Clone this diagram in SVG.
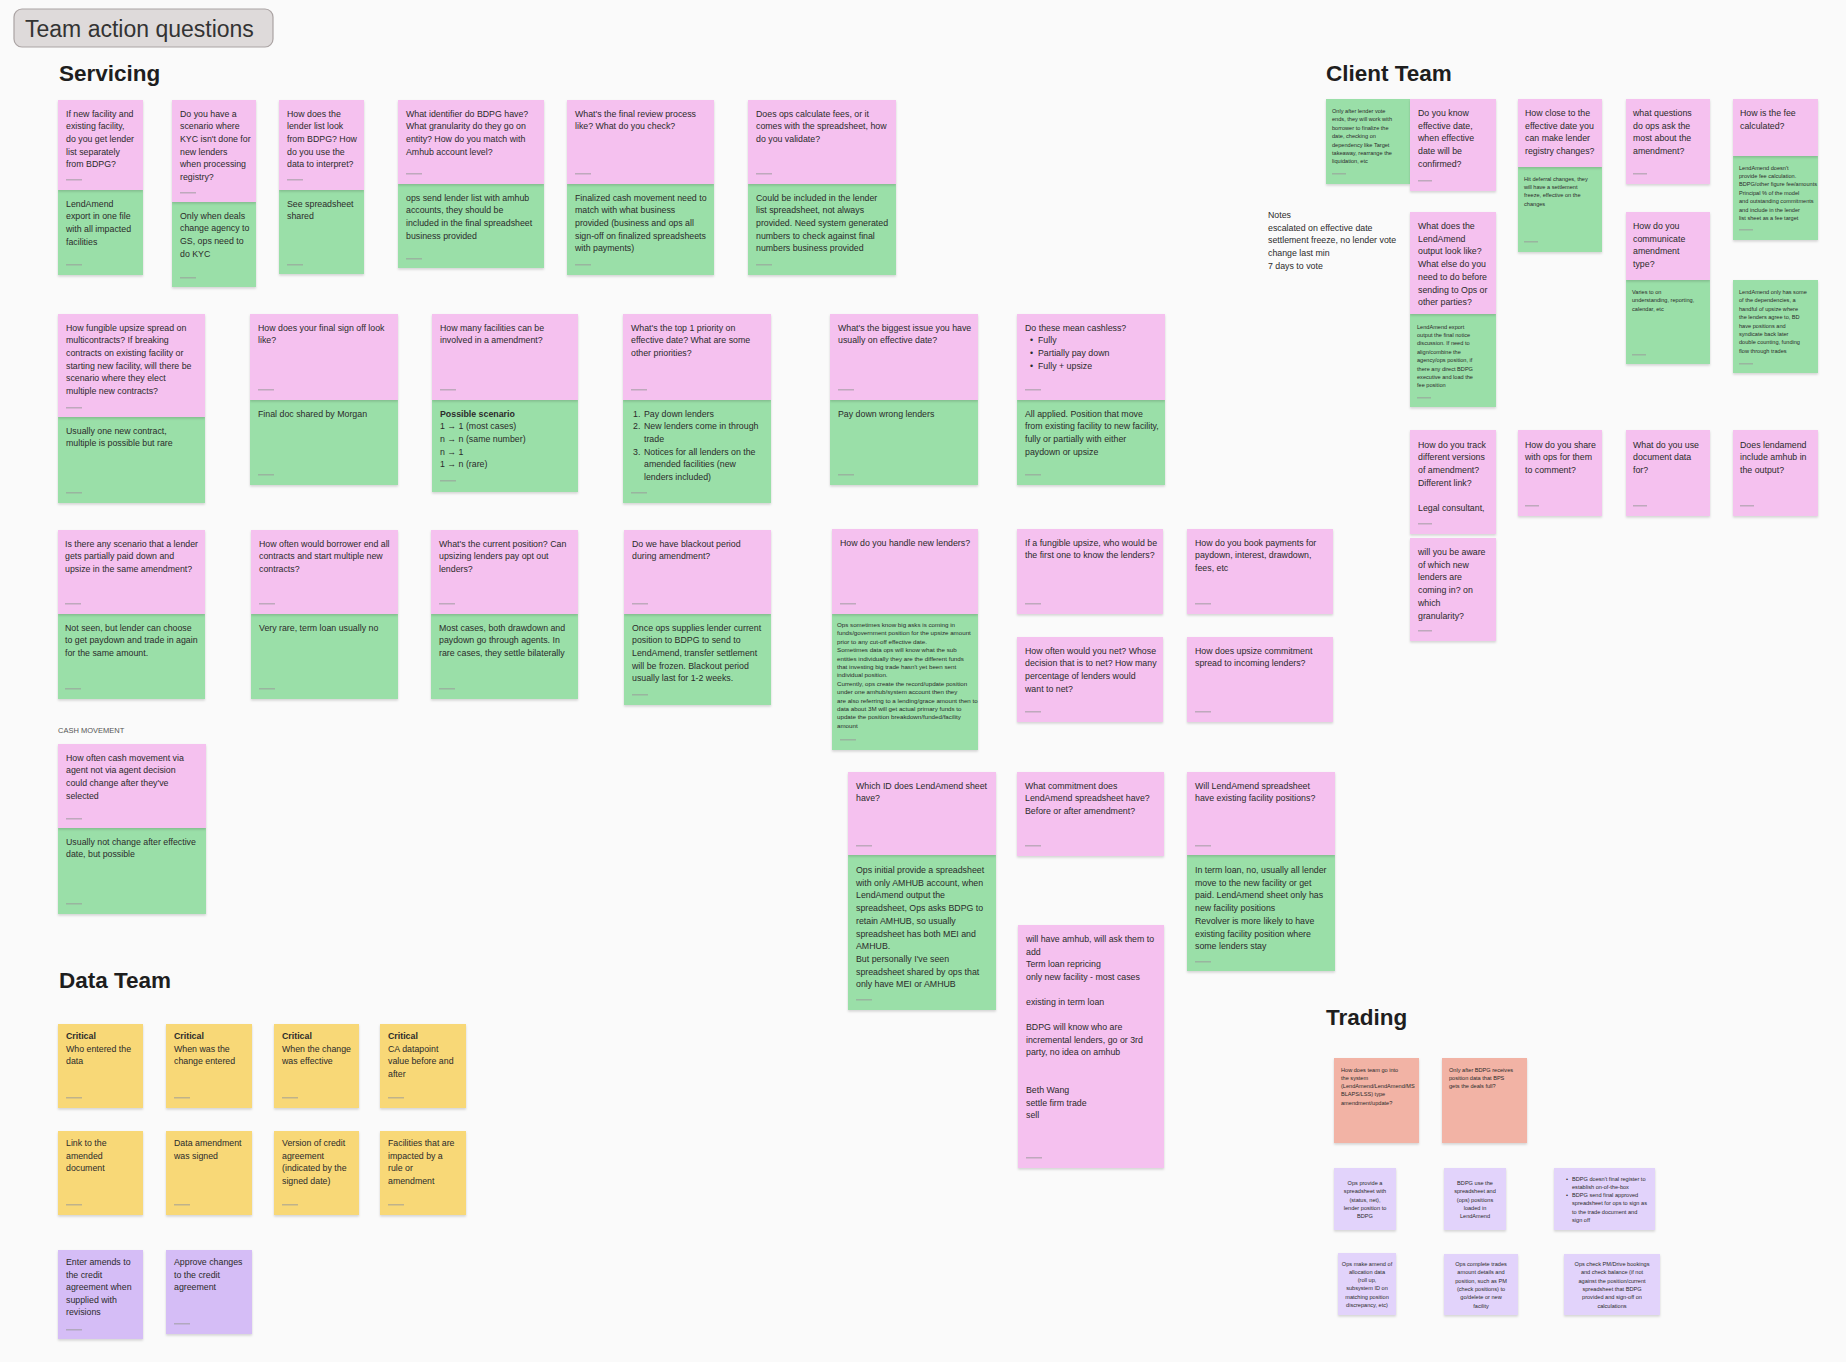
<svg xmlns="http://www.w3.org/2000/svg" width="1846" height="1362" viewBox="0 0 1846 1362">
<defs>
<filter id="sh" x="-10%" y="-10%" width="120%" height="130%"><feDropShadow dx="0" dy="1.5" stdDeviation="1.3" flood-color="#000" flood-opacity="0.16"/></filter>
<style>
.p{fill:#f5c1ef;filter:url(#sh)}
.g{fill:#9adfa8;filter:url(#sh)}
.y{fill:#f8d877;filter:url(#sh)}
.u{fill:#d5bdf6;filter:url(#sh)}
.l{fill:#e2d3fb;filter:url(#sh)}
.s{fill:#f2b3a5;filter:url(#sh)}
.t{font-family:"Liberation Sans",Arial,sans-serif;font-size:8.8px;fill:#2b2b2b}
.m{font-family:"Liberation Sans",Arial,sans-serif;font-size:6.2px;fill:#2b2b2b}
.n{font-family:"Liberation Sans",Arial,sans-serif;font-size:5.6px;fill:#2b2b2b}
.c{text-anchor:middle}
.b{font-weight:bold}
.h{font-family:"Liberation Sans",Arial,sans-serif;font-size:22.5px;font-weight:bold;fill:#1e1e1e}
.ts{fill:#9a9a9a;opacity:.6}
</style>
</defs>
<rect width="1846" height="1362" fill="#fafafa"/>

<g id="title">
<rect x="14" y="9" width="259" height="38" rx="8" fill="#dedada" stroke="#aaa3a3" stroke-width="1.2"/>
<text x="25" y="37" font-family="Liberation Sans,Arial,sans-serif" font-size="23px" fill="#333">Team action questions</text>
</g>
<g id="headings">
<text class="h" x="59" y="81">Servicing</text>
<text class="h" x="1326" y="81">Client Team</text>
<text class="h" x="59" y="988">Data Team</text>
<text class="h" x="1326" y="1025">Trading</text>
<text x="58" y="733" font-family="Liberation Sans,Arial,sans-serif" font-size="7.5px" fill="#555">CASH MOVEMENT</text>
</g>
<g id="connectors"></g>

<!-- Servicing row 1 -->
<g id="s1">
<rect class="g" x="58" y="190" width="85" height="85"/><rect class="p" x="58" y="100" width="85" height="90"/>
<text class="t" y="116.5"><tspan x="66">If new facility and</tspan><tspan x="66" dy="12.7">existing facility,</tspan><tspan x="66" dy="12.7">do you get lender</tspan><tspan x="66" dy="12.7">list separately</tspan><tspan x="66" dy="12.7">from BDPG?</tspan></text>
<text class="t" y="206.5"><tspan x="66">LendAmend</tspan><tspan x="66" dy="12.7">export in one file</tspan><tspan x="66" dy="12.7">with all impacted</tspan><tspan x="66" dy="12.7">facilities</tspan></text>
<rect class="ts" x="66" y="179" width="16" height="1.5"/><rect class="ts" x="66" y="264" width="16" height="1.5"/>
</g>
<g id="s2">
<rect class="g" x="172" y="202" width="84" height="85"/><rect class="p" x="172" y="100" width="84" height="102"/>
<text class="t" y="116.5"><tspan x="180">Do you have a</tspan><tspan x="180" dy="12.7">scenario where</tspan><tspan x="180" dy="12.7">KYC isn't done for</tspan><tspan x="180" dy="12.7">new lenders</tspan><tspan x="180" dy="12.7">when processing</tspan><tspan x="180" dy="12.7">registry?</tspan></text>
<text class="t" y="218.5"><tspan x="180">Only when deals</tspan><tspan x="180" dy="12.7">change agency to</tspan><tspan x="180" dy="12.7">GS, ops need to</tspan><tspan x="180" dy="12.7">do KYC</tspan></text>
<rect class="ts" x="180" y="192" width="16" height="1.5"/><rect class="ts" x="180" y="277" width="16" height="1.5"/>
</g>
<g id="s3">
<rect class="g" x="279" y="190" width="85" height="84"/><rect class="p" x="279" y="100" width="85" height="90"/>
<text class="t" y="116.5"><tspan x="287">How does the</tspan><tspan x="287" dy="12.7">lender list look</tspan><tspan x="287" dy="12.7">from BDPG? How</tspan><tspan x="287" dy="12.7">do you use the</tspan><tspan x="287" dy="12.7">data to interpret?</tspan></text>
<text class="t" y="206.5"><tspan x="287">See spreadsheet</tspan><tspan x="287" dy="12.7">shared</tspan></text>
<rect class="ts" x="287" y="179" width="16" height="1.5"/><rect class="ts" x="287" y="264" width="16" height="1.5"/>
</g>
<g id="s4">
<rect class="g" x="398" y="184" width="146" height="84"/><rect class="p" x="398" y="100" width="146" height="84"/>
<text class="t" y="116.5"><tspan x="406">What identifier do BDPG have?</tspan><tspan x="406" dy="12.7">What granularity do they go on</tspan><tspan x="406" dy="12.7">entity? How do you match with</tspan><tspan x="406" dy="12.7">Amhub account level?</tspan></text>
<text class="t" y="200.5"><tspan x="406">ops send lender list with amhub</tspan><tspan x="406" dy="12.7">accounts, they should be</tspan><tspan x="406" dy="12.7">included in the final spreadsheet</tspan><tspan x="406" dy="12.7">business provided</tspan></text>
<rect class="ts" x="406" y="173" width="16" height="1.5"/><rect class="ts" x="406" y="258" width="16" height="1.5"/>
</g>
<g id="s5">
<rect class="g" x="567" y="184" width="147" height="91"/><rect class="p" x="567" y="100" width="147" height="84"/>
<text class="t" y="116.5"><tspan x="575">What's the final review process</tspan><tspan x="575" dy="12.7">like? What do you check?</tspan></text>
<text class="t" y="200.5"><tspan x="575">Finalized cash movement need to</tspan><tspan x="575" dy="12.7">match with what business</tspan><tspan x="575" dy="12.7">provided (business and ops all</tspan><tspan x="575" dy="12.7">sign-off on finalized spreadsheets</tspan><tspan x="575" dy="12.7">with payments)</tspan></text>
<rect class="ts" x="575" y="173" width="16" height="1.5"/><rect class="ts" x="575" y="264" width="16" height="1.5"/>
</g>
<g id="s6">
<rect class="g" x="748" y="184" width="148" height="91"/><rect class="p" x="748" y="100" width="148" height="84"/>
<text class="t" y="116.5"><tspan x="756">Does ops calculate fees, or it</tspan><tspan x="756" dy="12.7">comes with the spreadsheet, how</tspan><tspan x="756" dy="12.7">do you validate?</tspan></text>
<text class="t" y="200.5"><tspan x="756">Could be included in the lender</tspan><tspan x="756" dy="12.7">list spreadsheet, not always</tspan><tspan x="756" dy="12.7">provided. Need system generated</tspan><tspan x="756" dy="12.7">numbers to check against final</tspan><tspan x="756" dy="12.7">numbers business provided</tspan></text>
<rect class="ts" x="756" y="173" width="16" height="1.5"/><rect class="ts" x="756" y="264" width="16" height="1.5"/>
</g>

<!-- Servicing row 2 -->
<g id="r2a">
<rect class="g" x="58" y="417" width="147" height="86"/><rect class="p" x="58" y="314" width="147" height="103"/>
<text class="t" y="330.5"><tspan x="66">How fungible upsize spread on</tspan><tspan x="66" dy="12.7">multicontracts? If breaking</tspan><tspan x="66" dy="12.7">contracts on existing facility or</tspan><tspan x="66" dy="12.7">starting new facility, will there be</tspan><tspan x="66" dy="12.7">scenario where they elect</tspan><tspan x="66" dy="12.7">multiple new contracts?</tspan></text>
<text class="t" y="433.5"><tspan x="66">Usually one new contract,</tspan><tspan x="66" dy="12.7">multiple is possible but rare</tspan></text>
<rect class="ts" x="66" y="407" width="16" height="1.5"/><rect class="ts" x="66" y="492" width="16" height="1.5"/>
</g>
<g id="r2b">
<rect class="g" x="250" y="400" width="148" height="85"/><rect class="p" x="250" y="314" width="148" height="86"/>
<text class="t" y="330.5"><tspan x="258">How does your final sign off look</tspan><tspan x="258" dy="12.7">like?</tspan></text>
<text class="t" y="416.5"><tspan x="258">Final doc shared by Morgan</tspan></text>
<rect class="ts" x="258" y="389" width="16" height="1.5"/><rect class="ts" x="258" y="474" width="16" height="1.5"/>
</g>
<g id="r2c">
<rect class="g" x="432" y="400" width="146" height="92"/><rect class="p" x="432" y="314" width="146" height="86"/>
<text class="t" y="330.5"><tspan x="440">How many facilities can be</tspan><tspan x="440" dy="12.7">involved in a amendment?</tspan></text>
<text class="t" y="416.5"><tspan x="440" class="b">Possible scenario</tspan><tspan x="440" dy="12.7">1 → 1 (most cases)</tspan><tspan x="440" dy="12.7">n → n (same number)</tspan><tspan x="440" dy="12.7">n → 1</tspan><tspan x="440" dy="12.7">1 → n (rare)</tspan></text>
<rect class="ts" x="440" y="389" width="16" height="1.5"/><rect class="ts" x="440" y="480" width="16" height="1.5"/>
</g>
<g id="r2d">
<rect class="g" x="623" y="400" width="148" height="103"/><rect class="p" x="623" y="314" width="148" height="86"/>
<text class="t" y="330.5"><tspan x="631">What's the top 1 priority on</tspan><tspan x="631" dy="12.7">effective date? What are some</tspan><tspan x="631" dy="12.7">other priorities?</tspan></text>
<text class="t" y="416.5"><tspan x="633">1.</tspan><tspan x="644">Pay down lenders</tspan><tspan x="633" dy="12.7">2.</tspan><tspan x="644">New lenders come in through</tspan><tspan x="644" dy="12.7">trade</tspan><tspan x="633" dy="12.7">3.</tspan><tspan x="644">Notices for all lenders on the</tspan><tspan x="644" dy="12.7">amended facilities (new</tspan><tspan x="644" dy="12.7">lenders included)</tspan></text>
<rect class="ts" x="631" y="389" width="16" height="1.5"/><rect class="ts" x="631" y="492" width="16" height="1.5"/>
</g>
<g id="r2e">
<rect class="g" x="830" y="400" width="148" height="85"/><rect class="p" x="830" y="314" width="148" height="86"/>
<text class="t" y="330.5"><tspan x="838">What's the biggest issue you have</tspan><tspan x="838" dy="12.7">usually on effective date?</tspan></text>
<text class="t" y="416.5"><tspan x="838">Pay down wrong lenders</tspan></text>
<rect class="ts" x="838" y="389" width="16" height="1.5"/><rect class="ts" x="838" y="474" width="16" height="1.5"/>
</g>
<g id="r2f">
<rect class="g" x="1017" y="400" width="148" height="85"/><rect class="p" x="1017" y="314" width="148" height="86"/>
<text class="t" y="330.5"><tspan x="1025">Do these mean cashless?</tspan><tspan x="1030" dy="12.7">•</tspan><tspan x="1038">Fully</tspan><tspan x="1030" dy="12.7">•</tspan><tspan x="1038">Partially pay down</tspan><tspan x="1030" dy="12.7">•</tspan><tspan x="1038">Fully + upsize</tspan></text>
<text class="t" y="416.5"><tspan x="1025">All applied. Position that move</tspan><tspan x="1025" dy="12.7">from existing facility to new facility,</tspan><tspan x="1025" dy="12.7">fully or partially with either</tspan><tspan x="1025" dy="12.7">paydown or upsize</tspan></text>
<rect class="ts" x="1025" y="389" width="16" height="1.5"/><rect class="ts" x="1025" y="474" width="16" height="1.5"/>
</g>

<!-- Servicing row 3 -->
<g id="r3a">
<rect class="g" x="58" y="614" width="147" height="85"/><rect class="p" x="58" y="530" width="147" height="84"/>
<text class="t" y="546.5"><tspan x="65">Is there any scenario that a lender</tspan><tspan x="65" dy="12.7">gets partially paid down and</tspan><tspan x="65" dy="12.7">upsize in the same amendment?</tspan></text>
<text class="t" y="630.5"><tspan x="65">Not seen, but lender can choose</tspan><tspan x="65" dy="12.7">to get paydown and trade in again</tspan><tspan x="65" dy="12.7">for the same amount.</tspan></text>
<rect class="ts" x="65" y="603" width="16" height="1.5"/><rect class="ts" x="65" y="688" width="16" height="1.5"/>
</g>
<g id="r3b">
<rect class="g" x="251" y="614" width="147" height="85"/><rect class="p" x="251" y="530" width="147" height="84"/>
<text class="t" y="546.5"><tspan x="259">How often would borrower end all</tspan><tspan x="259" dy="12.7">contracts and start multiple new</tspan><tspan x="259" dy="12.7">contracts?</tspan></text>
<text class="t" y="630.5"><tspan x="259">Very rare, term loan usually no</tspan></text>
<rect class="ts" x="259" y="603" width="16" height="1.5"/><rect class="ts" x="259" y="688" width="16" height="1.5"/>
</g>
<g id="r3c">
<rect class="g" x="431" y="614" width="147" height="85"/><rect class="p" x="431" y="530" width="147" height="84"/>
<text class="t" y="546.5"><tspan x="439">What's the current position? Can</tspan><tspan x="439" dy="12.7">upsizing lenders pay opt out</tspan><tspan x="439" dy="12.7">lenders?</tspan></text>
<text class="t" y="630.5"><tspan x="439">Most cases, both drawdown and</tspan><tspan x="439" dy="12.7">paydown go through agents. In</tspan><tspan x="439" dy="12.7">rare cases, they settle bilaterally</tspan></text>
<rect class="ts" x="439" y="603" width="16" height="1.5"/><rect class="ts" x="439" y="688" width="16" height="1.5"/>
</g>
<g id="r3d">
<rect class="g" x="624" y="614" width="147" height="91"/><rect class="p" x="624" y="530" width="147" height="84"/>
<text class="t" y="546.5"><tspan x="632">Do we have blackout period</tspan><tspan x="632" dy="12.7">during amendment?</tspan></text>
<text class="t" y="630.5"><tspan x="632">Once ops supplies lender current</tspan><tspan x="632" dy="12.7">position to BDPG to send to</tspan><tspan x="632" dy="12.7">LendAmend, transfer settlement</tspan><tspan x="632" dy="12.7">will be frozen. Blackout period</tspan><tspan x="632" dy="12.7">usually last for 1-2 weeks.</tspan></text>
<rect class="ts" x="632" y="603" width="16" height="1.5"/><rect class="ts" x="632" y="694" width="16" height="1.5"/>
</g>
<g id="r3e">
<rect class="g" x="832" y="614" width="146" height="136"/><rect class="p" x="832" y="529" width="146" height="85"/>
<text class="t" y="545.5"><tspan x="840">How do you handle new lenders?</tspan></text>
<text class="m" y="627"><tspan x="837">Ops sometimes know big asks is coming in</tspan><tspan x="837" dy="8.4">funds/government position for the upsize amount</tspan><tspan x="837" dy="8.4">prior to any cut-off effective date.</tspan><tspan x="837" dy="8.4">Sometimes data ops will know what the sub</tspan><tspan x="837" dy="8.4">entities individually they are the different funds</tspan><tspan x="837" dy="8.4">that investing big trade hasn't yet been sent</tspan><tspan x="837" dy="8.4">individual position.</tspan><tspan x="837" dy="8.4">Currently, ops create the record/update position</tspan><tspan x="837" dy="8.4">under one amhub/system account then they</tspan><tspan x="837" dy="8.4">are also referring to a lending/grace amount then to</tspan><tspan x="837" dy="8.4">data about 3M will get actual primary funds to</tspan><tspan x="837" dy="8.4">update the position breakdown/funded/facility</tspan><tspan x="837" dy="8.4">amount</tspan></text>
<rect class="ts" x="840" y="603" width="16" height="1.5"/><rect class="ts" x="840" y="739" width="16" height="1.5"/>
</g>
<g id="r3f">
<rect class="p" x="1017" y="529" width="146" height="85"/>
<text class="t" y="545.5"><tspan x="1025">If a fungible upsize, who would be</tspan><tspan x="1025" dy="12.7">the first one to know the lenders?</tspan></text>
<rect class="ts" x="1025" y="603" width="16" height="1.5"/>
</g>
<g id="r3g">
<rect class="p" x="1187" y="529" width="146" height="85"/>
<text class="t" y="545.5"><tspan x="1195">How do you book payments for</tspan><tspan x="1195" dy="12.7">paydown, interest, drawdown,</tspan><tspan x="1195" dy="12.7">fees, etc</tspan></text>
<rect class="ts" x="1195" y="603" width="16" height="1.5"/>
</g>
<g id="r3h">
<rect class="p" x="1017" y="637" width="146" height="85"/>
<text class="t" y="653.5"><tspan x="1025">How often would you net? Whose</tspan><tspan x="1025" dy="12.7">decision that is to net? How many</tspan><tspan x="1025" dy="12.7">percentage of lenders would</tspan><tspan x="1025" dy="12.7">want to net?</tspan></text>
<rect class="ts" x="1025" y="711" width="16" height="1.5"/>
</g>
<g id="r3i">
<rect class="p" x="1187" y="637" width="146" height="85"/>
<text class="t" y="653.5"><tspan x="1195">How does upsize commitment</tspan><tspan x="1195" dy="12.7">spread to incoming lenders?</tspan></text>
<rect class="ts" x="1195" y="711" width="16" height="1.5"/>
</g>

<!-- Cash movement -->
<g id="cash">
<rect class="g" x="58" y="828" width="148" height="86"/><rect class="p" x="58" y="744" width="148" height="84"/>
<text class="t" y="760.5"><tspan x="66">How often cash movement via</tspan><tspan x="66" dy="12.7">agent not via agent decision</tspan><tspan x="66" dy="12.7">could change after they've</tspan><tspan x="66" dy="12.7">selected</tspan></text>
<text class="t" y="844.5"><tspan x="66">Usually not change after effective</tspan><tspan x="66" dy="12.7">date, but possible</tspan></text>
<rect class="ts" x="66" y="818" width="16" height="1.5"/><rect class="ts" x="66" y="903" width="16" height="1.5"/>
</g>

<!-- Servicing row 4 -->
<g id="r4a">
<rect class="g" x="848" y="855" width="148" height="155"/><rect class="p" x="848" y="772" width="148" height="83"/>
<text class="t" y="788.5"><tspan x="856">Which ID does LendAmend sheet</tspan><tspan x="856" dy="12.7">have?</tspan></text>
<text class="t" y="873"><tspan x="856">Ops initial provide a spreadsheet</tspan><tspan x="856" dy="12.7">with only AMHUB account, when</tspan><tspan x="856" dy="12.7">LendAmend output the</tspan><tspan x="856" dy="12.7">spreadsheet, Ops asks BDPG to</tspan><tspan x="856" dy="12.7">retain AMHUB, so usually</tspan><tspan x="856" dy="12.7">spreadsheet has both MEI and</tspan><tspan x="856" dy="12.7">AMHUB.</tspan><tspan x="856" dy="12.7">But personally I've seen</tspan><tspan x="856" dy="12.7">spreadsheet shared by ops that</tspan><tspan x="856" dy="12.7">only have MEI or AMHUB</tspan></text>
<rect class="ts" x="856" y="845" width="16" height="1.5"/><rect class="ts" x="856" y="999" width="16" height="1.5"/>
</g>
<g id="r4b">
<rect class="p" x="1017" y="772" width="147" height="84"/>
<text class="t" y="788.5"><tspan x="1025">What commitment does</tspan><tspan x="1025" dy="12.7">LendAmend spreadsheet have?</tspan><tspan x="1025" dy="12.7">Before or after amendment?</tspan></text>
<rect class="ts" x="1025" y="845" width="16" height="1.5"/>
</g>
<g id="r4c">
<rect class="g" x="1187" y="855" width="148" height="116"/><rect class="p" x="1187" y="772" width="148" height="83"/>
<text class="t" y="788.5"><tspan x="1195">Will LendAmend spreadsheet</tspan><tspan x="1195" dy="12.7">have existing facility positions?</tspan></text>
<text class="t" y="873"><tspan x="1195">In term loan, no, usually all lender</tspan><tspan x="1195" dy="12.7">move to the new facility or get</tspan><tspan x="1195" dy="12.7">paid. LendAmend sheet only has</tspan><tspan x="1195" dy="12.7">new facility positions</tspan><tspan x="1195" dy="12.7">Revolver is more likely to have</tspan><tspan x="1195" dy="12.7">existing facility position where</tspan><tspan x="1195" dy="12.7">some lenders stay</tspan></text>
<rect class="ts" x="1195" y="845" width="16" height="1.5"/><rect class="ts" x="1195" y="961" width="16" height="1.5"/>
</g>
<g id="r4d">
<rect class="p" x="1018" y="925" width="146" height="243"/>
<text class="t" y="942"><tspan x="1026">will have amhub, will ask them to</tspan><tspan x="1026" dy="12.6">add</tspan><tspan x="1026" dy="12.6">Term loan repricing</tspan><tspan x="1026" dy="12.6">only new facility - most cases</tspan><tspan x="1026" dy="25.2">existing in term loan</tspan><tspan x="1026" dy="25.2">BDPG will know who are</tspan><tspan x="1026" dy="12.6">incremental lenders, go or 3rd</tspan><tspan x="1026" dy="12.6">party, no idea on amhub</tspan><tspan x="1026" dy="37.8">Beth Wang</tspan><tspan x="1026" dy="12.6">settle firm trade</tspan><tspan x="1026" dy="12.6">sell</tspan></text>
<rect class="ts" x="1026" y="1157" width="16" height="1.5"/>
</g>

<!-- Client Team -->
<g id="notes">
<text class="t" y="218"><tspan x="1268">Notes</tspan><tspan x="1268" dy="12.7">escalated on effective date</tspan><tspan x="1268" dy="12.7">settlement freeze, no lender vote</tspan><tspan x="1268" dy="12.7">change last min</tspan><tspan x="1268" dy="12.7">7 days to vote</tspan></text>
</g>
<g id="ct1">
<rect class="g" x="1326" y="99" width="84" height="85"/>
<text class="n" y="113"><tspan x="1332">Only after lender vote</tspan><tspan x="1332" dy="8.4">ends, they will work with</tspan><tspan x="1332" dy="8.4">borrower to finalize the</tspan><tspan x="1332" dy="8.4">date, checking on</tspan><tspan x="1332" dy="8.4">dependency like Target</tspan><tspan x="1332" dy="8.4">takeaway, rearrange the</tspan><tspan x="1332" dy="8.4">liquidation, etc</tspan></text>
<rect class="ts" x="1332" y="173" width="14" height="1.5"/>
</g>
<g id="ct2">
<rect class="p" x="1410" y="99" width="86" height="92"/>
<text class="t" y="116"><tspan x="1418">Do you know</tspan><tspan x="1418" dy="12.7">effective date,</tspan><tspan x="1418" dy="12.7">when effective</tspan><tspan x="1418" dy="12.7">date will be</tspan><tspan x="1418" dy="12.7">confirmed?</tspan></text>
<rect class="ts" x="1418" y="180" width="14" height="1.5"/>
</g>
<g id="ct3">
<rect class="g" x="1518" y="167" width="84" height="85"/><rect class="p" x="1518" y="99" width="84" height="68"/>
<text class="t" y="116"><tspan x="1525">How close to the</tspan><tspan x="1525" dy="12.7">effective date you</tspan><tspan x="1525" dy="12.7">can make lender</tspan><tspan x="1525" dy="12.7">registry changes?</tspan></text>
<text class="n" y="180.5"><tspan x="1524">Hit deferral changes, they</tspan><tspan x="1524" dy="8.4">will have a settlement</tspan><tspan x="1524" dy="8.4">freeze, effective on the</tspan><tspan x="1524" dy="8.4">changes</tspan></text>
<rect class="ts" x="1524" y="241" width="14" height="1.5"/>
</g>
<g id="ct4">
<rect class="p" x="1626" y="99" width="84" height="85"/>
<text class="t" y="116"><tspan x="1633">what questions</tspan><tspan x="1633" dy="12.7">do ops ask the</tspan><tspan x="1633" dy="12.7">most about the</tspan><tspan x="1633" dy="12.7">amendment?</tspan></text>
<rect class="ts" x="1633" y="173" width="14" height="1.5"/>
</g>
<g id="ct5">
<rect class="g" x="1733" y="156" width="85" height="84"/><rect class="p" x="1733" y="99" width="85" height="57"/>
<text class="t" y="116"><tspan x="1740">How is the fee</tspan><tspan x="1740" dy="12.7">calculated?</tspan></text>
<text class="n" y="169.5"><tspan x="1739">LendAmend doesn't</tspan><tspan x="1739" dy="8.4">provide fee calculation.</tspan><tspan x="1739" dy="8.4">BDPG/other figure fee/amounts</tspan><tspan x="1739" dy="8.4">Principal % of the model</tspan><tspan x="1739" dy="8.4">and outstanding commitments</tspan><tspan x="1739" dy="8.4">and include in the lender</tspan><tspan x="1739" dy="8.4">list sheet as a fee target</tspan></text>
<rect class="ts" x="1739" y="229" width="14" height="1.5"/>
</g>
<g id="ct6">
<rect class="g" x="1410" y="314" width="86" height="93"/><rect class="p" x="1410" y="212" width="86" height="102"/>
<text class="t" y="229"><tspan x="1418">What does the</tspan><tspan x="1418" dy="12.7">LendAmend</tspan><tspan x="1418" dy="12.7">output look like?</tspan><tspan x="1418" dy="12.7">What else do you</tspan><tspan x="1418" dy="12.7">need to do before</tspan><tspan x="1418" dy="12.7">sending to Ops or</tspan><tspan x="1418" dy="12.7">other parties?</tspan></text>
<text class="n" y="328.5"><tspan x="1417">LendAmend export</tspan><tspan x="1417" dy="8.4">output the final notice</tspan><tspan x="1417" dy="8.4">discussion. If need to</tspan><tspan x="1417" dy="8.4">align/combine the</tspan><tspan x="1417" dy="8.4">agency/ops position, if</tspan><tspan x="1417" dy="8.4">there any direct BDPG</tspan><tspan x="1417" dy="8.4">executive and load the</tspan><tspan x="1417" dy="8.4">fee position</tspan></text>
<rect class="ts" x="1417" y="397" width="14" height="1.5"/>
</g>
<g id="ct7">
<rect class="g" x="1626" y="280" width="84" height="84"/><rect class="p" x="1626" y="212" width="84" height="68"/>
<text class="t" y="229"><tspan x="1633">How do you</tspan><tspan x="1633" dy="12.7">communicate</tspan><tspan x="1633" dy="12.7">amendment</tspan><tspan x="1633" dy="12.7">type?</tspan></text>
<text class="n" y="294"><tspan x="1632">Varies to on</tspan><tspan x="1632" dy="8.4">understanding, reporting,</tspan><tspan x="1632" dy="8.4">calendar, etc</tspan></text>
<rect class="ts" x="1632" y="354" width="14" height="1.5"/>
</g>
<g id="ct8">
<rect class="g" x="1733" y="280" width="85" height="93"/>
<text class="n" y="294"><tspan x="1739">LendAmend only has some</tspan><tspan x="1739" dy="8.4">of the dependencies, a</tspan><tspan x="1739" dy="8.4">handful of upsize where</tspan><tspan x="1739" dy="8.4">the lenders agree to, BD</tspan><tspan x="1739" dy="8.4">have positions and</tspan><tspan x="1739" dy="8.4">syndicate back later</tspan><tspan x="1739" dy="8.4">double counting, funding</tspan><tspan x="1739" dy="8.4">flow through trades</tspan></text>
<rect class="ts" x="1739" y="363" width="14" height="1.5"/>
</g>
<g id="ct9">
<rect class="p" x="1410" y="430" width="86" height="104"/>
<text class="t" y="447.5"><tspan x="1418">How do you track</tspan><tspan x="1418" dy="12.7">different versions</tspan><tspan x="1418" dy="12.7">of amendment?</tspan><tspan x="1418" dy="12.7">Different link?</tspan><tspan x="1418" dy="25.4">Legal consultant,</tspan></text>
<rect class="ts" x="1418" y="523" width="14" height="1.5"/>
</g>
<g id="ct10">
<rect class="p" x="1410" y="538" width="86" height="103"/>
<text class="t" y="555"><tspan x="1418">will you be aware</tspan><tspan x="1418" dy="12.7">of which new</tspan><tspan x="1418" dy="12.7">lenders are</tspan><tspan x="1418" dy="12.7">coming in? on</tspan><tspan x="1418" dy="12.7">which</tspan><tspan x="1418" dy="12.7">granularity?</tspan></text>
<rect class="ts" x="1418" y="630" width="14" height="1.5"/>
</g>
<g id="ct11">
<rect class="p" x="1518" y="430" width="84" height="86"/>
<text class="t" y="447.5"><tspan x="1525">How do you share</tspan><tspan x="1525" dy="12.7">with ops for them</tspan><tspan x="1525" dy="12.7">to comment?</tspan></text>
<rect class="ts" x="1525" y="505" width="14" height="1.5"/>
</g>
<g id="ct12">
<rect class="p" x="1626" y="430" width="84" height="86"/>
<text class="t" y="447.5"><tspan x="1633">What do you use</tspan><tspan x="1633" dy="12.7">document data</tspan><tspan x="1633" dy="12.7">for?</tspan></text>
<rect class="ts" x="1633" y="505" width="14" height="1.5"/>
</g>
<g id="ct13">
<rect class="p" x="1733" y="430" width="85" height="86"/>
<text class="t" y="447.5"><tspan x="1740">Does lendamend</tspan><tspan x="1740" dy="12.7">include amhub in</tspan><tspan x="1740" dy="12.7">the output?</tspan></text>
<rect class="ts" x="1740" y="505" width="14" height="1.5"/>
</g>

<!-- Data Team -->
<g id="d1"><rect class="y" x="58" y="1024" width="85" height="84"/>
<text class="t" y="1039"><tspan x="66" class="b">Critical</tspan><tspan x="66" dy="12.6">Who entered the</tspan><tspan x="66" dy="12.6">data</tspan></text><rect class="ts" x="66" y="1097" width="16" height="1.5"/></g>
<g id="d2"><rect class="y" x="166" y="1024" width="86" height="84"/>
<text class="t" y="1039"><tspan x="174" class="b">Critical</tspan><tspan x="174" dy="12.6">When was the</tspan><tspan x="174" dy="12.6">change entered</tspan></text><rect class="ts" x="174" y="1097" width="16" height="1.5"/></g>
<g id="d3"><rect class="y" x="274" y="1024" width="85" height="84"/>
<text class="t" y="1039"><tspan x="282" class="b">Critical</tspan><tspan x="282" dy="12.6">When the change</tspan><tspan x="282" dy="12.6">was effective</tspan></text><rect class="ts" x="282" y="1097" width="16" height="1.5"/></g>
<g id="d4"><rect class="y" x="380" y="1024" width="86" height="84"/>
<text class="t" y="1039"><tspan x="388" class="b">Critical</tspan><tspan x="388" dy="12.6">CA datapoint</tspan><tspan x="388" dy="12.6">value before and</tspan><tspan x="388" dy="12.6">after</tspan></text><rect class="ts" x="388" y="1097" width="16" height="1.5"/></g>
<g id="d5"><rect class="y" x="58" y="1131" width="85" height="84"/>
<text class="t" y="1146"><tspan x="66">Link to the</tspan><tspan x="66" dy="12.6">amended</tspan><tspan x="66" dy="12.6">document</tspan></text><rect class="ts" x="66" y="1204" width="16" height="1.5"/></g>
<g id="d6"><rect class="y" x="166" y="1131" width="86" height="84"/>
<text class="t" y="1146"><tspan x="174">Data amendment</tspan><tspan x="174" dy="12.6">was signed</tspan></text><rect class="ts" x="174" y="1204" width="16" height="1.5"/></g>
<g id="d7"><rect class="y" x="274" y="1131" width="85" height="84"/>
<text class="t" y="1146"><tspan x="282">Version of credit</tspan><tspan x="282" dy="12.6">agreement</tspan><tspan x="282" dy="12.6">(indicated by the</tspan><tspan x="282" dy="12.6">signed date)</tspan></text><rect class="ts" x="282" y="1204" width="16" height="1.5"/></g>
<g id="d8"><rect class="y" x="380" y="1131" width="86" height="84"/>
<text class="t" y="1146"><tspan x="388">Facilities that are</tspan><tspan x="388" dy="12.6">impacted by a</tspan><tspan x="388" dy="12.6">rule or</tspan><tspan x="388" dy="12.6">amendment</tspan></text><rect class="ts" x="388" y="1204" width="16" height="1.5"/></g>
<g id="d9"><rect class="u" x="58" y="1250" width="85" height="89"/>
<text class="t" y="1265"><tspan x="66">Enter amends to</tspan><tspan x="66" dy="12.6">the credit</tspan><tspan x="66" dy="12.6">agreement when</tspan><tspan x="66" dy="12.6">supplied with</tspan><tspan x="66" dy="12.6">revisions</tspan></text><rect class="ts" x="66" y="1329" width="16" height="1.5"/></g>
<g id="d10"><rect class="u" x="166" y="1250" width="86" height="84"/>
<text class="t" y="1265"><tspan x="174">Approve changes</tspan><tspan x="174" dy="12.6">to the credit</tspan><tspan x="174" dy="12.6">agreement</tspan></text><rect class="ts" x="174" y="1323" width="16" height="1.5"/></g>

<!-- Trading -->
<g id="tr1"><rect class="s" x="1334" y="1058" width="85" height="85"/>
<text class="n" y="1071.5"><tspan x="1341">How does team go into</tspan><tspan x="1341" dy="8.3">the system</tspan><tspan x="1341" dy="8.3">(LendAmend/LendAmend/MS</tspan><tspan x="1341" dy="8.3">BLAPS/LSS) type</tspan><tspan x="1341" dy="8.3">amendment/update?</tspan></text></g>
<g id="tr2"><rect class="s" x="1442" y="1058" width="85" height="85"/>
<text class="n" y="1071.5"><tspan x="1449">Only after BDPG receives</tspan><tspan x="1449" dy="8.3">position data that BPS</tspan><tspan x="1449" dy="8.3">gets the deals full?</tspan></text></g>
<g id="tr3"><rect class="l" x="1334" y="1168" width="62" height="62"/>
<text class="n c" y="1185"><tspan x="1365">Ops provide a</tspan><tspan x="1365" dy="8.3">spreadsheet with</tspan><tspan x="1365" dy="8.3">(status, net),</tspan><tspan x="1365" dy="8.3">lender position to</tspan><tspan x="1365" dy="8.3">BDPG</tspan></text></g>
<g id="tr4"><rect class="l" x="1444" y="1168" width="62" height="62"/>
<text class="n c" y="1185"><tspan x="1475">BDPG use the</tspan><tspan x="1475" dy="8.3">spreadsheet and</tspan><tspan x="1475" dy="8.3">(ops) positions</tspan><tspan x="1475" dy="8.3">loaded in</tspan><tspan x="1475" dy="8.3">LendAmend</tspan></text></g>
<g id="tr5"><rect class="l" x="1554" y="1168" width="101" height="62"/>
<text class="n" y="1180.5"><tspan x="1566">•</tspan><tspan x="1572">BDPG doesn't final register to</tspan><tspan x="1572" dy="8.3">establish on-of-the-box</tspan><tspan x="1566" dy="8.3">•</tspan><tspan x="1572">BDPG send final approved</tspan><tspan x="1572" dy="8.3">spreadsheet for ops to sign as</tspan><tspan x="1572" dy="8.3">to the trade document and</tspan><tspan x="1572" dy="8.3">sign off</tspan></text></g>
<g id="tr6"><rect class="l" x="1338" y="1253" width="58" height="62"/>
<text class="n c" y="1265.5"><tspan x="1367">Ops make amend of</tspan><tspan x="1367" dy="8.3">allocation data</tspan><tspan x="1367" dy="8.3">(roll up,</tspan><tspan x="1367" dy="8.3">subsystem ID on</tspan><tspan x="1367" dy="8.3">matching position</tspan><tspan x="1367" dy="8.3">discrepancy, etc)</tspan></text></g>
<g id="tr7"><rect class="l" x="1444" y="1254" width="74" height="61"/>
<text class="n c" y="1266"><tspan x="1481">Ops complete trades</tspan><tspan x="1481" dy="8.3">amount details and</tspan><tspan x="1481" dy="8.3">position, such as PM</tspan><tspan x="1481" dy="8.3">(check positions) to</tspan><tspan x="1481" dy="8.3">go/delete or new</tspan><tspan x="1481" dy="8.3">facility</tspan></text></g>
<g id="tr8"><rect class="l" x="1564" y="1254" width="96" height="61"/>
<text class="n c" y="1266"><tspan x="1612">Ops check PM/Drive bookings</tspan><tspan x="1612" dy="8.3">and check balance (if not</tspan><tspan x="1612" dy="8.3">against the position/current</tspan><tspan x="1612" dy="8.3">spreadsheet that BDPG</tspan><tspan x="1612" dy="8.3">provided and sign-off on</tspan><tspan x="1612" dy="8.3">calculations</tspan></text></g>
</svg>
